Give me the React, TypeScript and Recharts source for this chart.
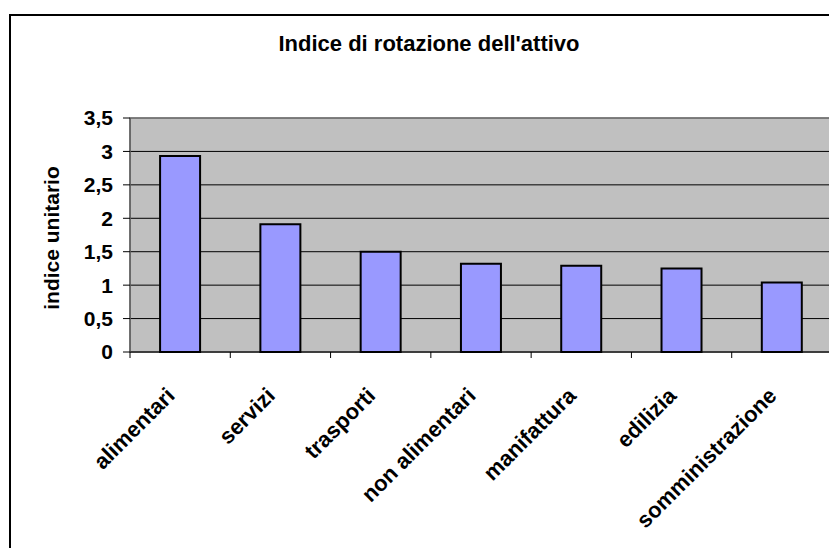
import { BarChart, Bar, XAxis, YAxis, CartesianGrid, ReferenceArea } from "recharts";

const categories = ["alimentari", "servizi", "trasporti", "non alimentari", "manifattura", "edilizia", "somministrazione"];
const values = [2.93, 1.91, 1.5, 1.32, 1.29, 1.25, 1.04];
const yTicks = [0, 0.5, 1, 1.5, 2, 2.5, 3, 3.5];

const data = categories.map((name, i) => ({ name, value: values[i] }));

const W = 837;
const H = 556;
const margin = { top: 118, right: 5, left: 70, bottom: 54 };
const Y_AXIS_W = 60;
const FONT = "'Liberation Sans', Arial, sans-serif";
const band = (W - margin.left - Y_AXIS_W - margin.right) / categories.length;

function XTick(props: any) {
  const { x, y, payload, index } = props;
  const top = y - 8;
  const ax = x - 4;
  const ay = top + 45;
  return (
    <g>
      <line x1={x - band / 2} y1={top} x2={x - band / 2} y2={top + 6} stroke="#000" />
      {index === categories.length - 1 && (
        <line x1={x + band / 2} y1={top} x2={x + band / 2} y2={top + 6} stroke="#000" />
      )}
      <text
        x={ax}
        y={ay}
        textAnchor="end"
        transform={`rotate(-45 ${ax} ${ay})`}
        fontFamily={FONT}
        fontWeight="bold"
        fontSize={22}
        fill="#000"
      >
        {payload.value}
      </text>
    </g>
  );
}

export default function App() {
  return (
    <div style={{ position: "relative", width: W, height: H, margin: -8, background: "#fff", overflow: "hidden" }}>
      <div style={{ position: "absolute", left: 9, top: 14, width: 900, height: 600, borderLeft: "2px solid #000", borderTop: "2px solid #000" }} />
      <div style={{ position: "absolute", left: 0, top: 33, width: 858, textAlign: "center", fontFamily: FONT, fontWeight: "bold", fontSize: 22, lineHeight: "22px" }}>
        Indice di rotazione dell'attivo
      </div>
      <div style={{ position: "absolute", left: 52, top: 238, transform: "translate(-50%, -50%) rotate(-90deg)", whiteSpace: "nowrap", fontFamily: FONT, fontWeight: "bold", fontSize: 21 }}>
        indice unitario
      </div>
      <BarChart width={W} height={H} data={data} margin={margin} barCategoryGap="30%" style={{ position: "absolute", left: 0, top: 0 }}>
        <CartesianGrid vertical={false} stroke="#000" fill="#C0C0C0" fillOpacity={1} />
        <ReferenceArea y1={0} y2={3.5} fill="none" stroke="#808080" strokeWidth={1.5} />
        <XAxis dataKey="name" interval={0} tickLine={false} axisLine={{ stroke: "#000" }} tick={<XTick />} height={150} />
        <YAxis
          width={Y_AXIS_W}
          domain={[0, 3.5]}
          ticks={yTicks}
          interval={0}
          tickSize={7}
          tickMargin={10}
          axisLine={{ stroke: "#404040" }}
          tickLine={{ stroke: "#000" }}
          tickFormatter={(v: number) => String(v).replace(".", ",")}
          tick={{ fontFamily: FONT, fontWeight: "bold", fontSize: 21, fill: "#000" }}
        />
        <Bar dataKey="value" fill="#9999FF" stroke="#000" strokeWidth={2} isAnimationActive={false} />
      </BarChart>
    </div>
  );
}
